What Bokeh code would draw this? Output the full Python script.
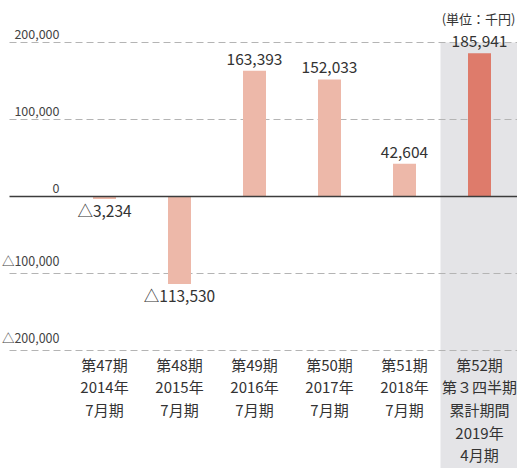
from bokeh.plotting import figure
from bokeh.models import Range1d, ColumnDataSource
from bokeh.core.properties import value
from bokeh.embed import file_html
from bokeh.resources import INLINE

# ---- data ----
categories = [
    "第47期\n2014年\n7月期",
    "第48期\n2015年\n7月期",
    "第49期\n2016年\n7月期",
    "第50期\n2017年\n7月期",
    "第51期\n2018年\n7月期",
    "第52期\n第３四半期\n累計期間\n2019年\n4月期",
]
values = [-3234, -113530, 163393, 152033, 42604, 185941]
tick_values = [200000, 100000, 0, -100000, -200000]
unit_label = "(単位：千円)"

def fmt(v):
    s = f"{abs(v):,}"
    return ("△" + s) if v < 0 else s

tick_labels = [fmt(v) for v in tick_values]

# ---- layout helpers ----
W, H = 517, 468
PX_X = 75.0           # pixels per category
PX_Y = 77.0 / 100000  # pixels per unit value
x0 = -104 / PX_X
x1 = x0 + W / PX_X
y_top = 196 / PX_Y
y_bot = y_top - H / PX_Y

FONT = value("'Noto Sans CJK JP', sans-serif")

p = figure(width=W, height=H, output_backend="svg", toolbar_location=None,
           x_range=Range1d(x0, x1), y_range=Range1d(y_bot, y_top),
           min_border=0, min_border_left=0, min_border_right=0,
           min_border_top=0, min_border_bottom=0)
p.axis.visible = False
p.grid.visible = False
p.outline_line_color = None
p.background_fill_color = "white"
p.border_fill_color = "white"

xs = list(range(len(values)))
grid_left = x0 + 9 / PX_X

# highlighted band for last period
p.quad(left=[xs[-1] - 0.52], right=[x1], top=[tick_values[0]], bottom=[y_bot],
       fill_color="#E4E4E7", line_color=None)

# dashed gridlines
gv = [t for t in tick_values if t != 0]
p.segment(x0=[grid_left] * len(gv), x1=[x1] * len(gv), y0=gv, y1=gv,
          line_color="#B4B4B4", line_width=1, line_dash="7 4")

# bars
colors = ["#EDB8A9"] * (len(values) - 1) + ["#DE7B6B"]
src = ColumnDataSource(dict(x=xs, top=values, color=colors))
p.vbar(x="x", top="top", bottom=0, width=23 / PX_X, fill_color="color",
       line_color=None, source=src)

# zero line
p.segment(x0=[grid_left], x1=[x1], y0=[0], y1=[0], line_color="#3C3C3C", line_width=1.6)

# y tick labels
p.text(x=[x0 + 59 / PX_X] * len(tick_values), y=tick_values, text=tick_labels,
       text_align="right", text_baseline="bottom", y_offset=-4,
       text_font=FONT, text_font_size="12.5px", text_color="#444444")

# value labels
pos = [(x, v) for x, v in zip(xs, values) if v >= 0]
neg = [(x, v) for x, v in zip(xs, values) if v < 0]
p.text(x=[a for a, _ in pos], y=[b for _, b in pos], text=[fmt(b) for _, b in pos],
       text_align="center", text_baseline="bottom", y_offset=-6,
       text_font=FONT, text_font_size="15.5px", text_color="#333333")
p.text(x=[a for a, _ in neg], y=[b for _, b in neg], text=[fmt(b) for _, b in neg],
       text_align="center", text_baseline="top", y_offset=0,
       text_font=FONT, text_font_size="15.5px", text_color="#333333")

# category labels
p.text(x=xs, y=[tick_values[-1]] * len(xs), text=categories,
       text_align="center", text_baseline="top", y_offset=3,
       text_font=FONT, text_font_size="15px", text_line_height=1.08,
       text_color="#333333")

# unit label
p.text(x=[x1], y=[y_top], text=[unit_label], text_align="right",
       text_baseline="middle", x_offset=-2, y_offset=18,
       text_font=FONT, text_font_size="13px", text_color="#333333")

open("out.html", "w").write(file_html(p, INLINE))
